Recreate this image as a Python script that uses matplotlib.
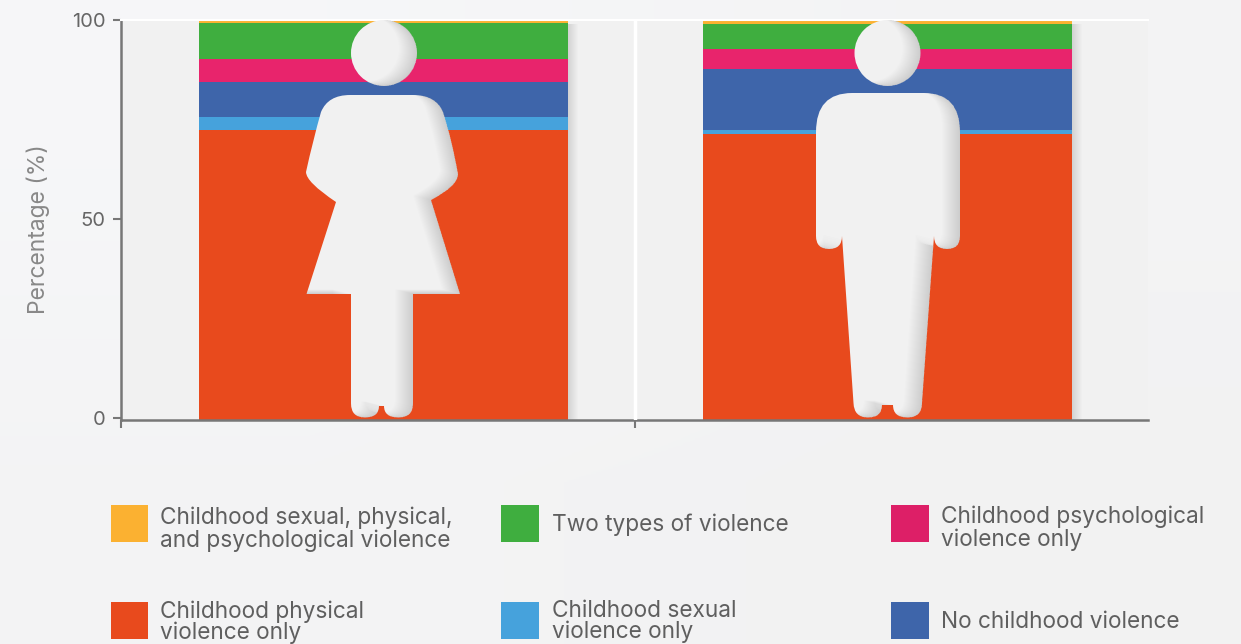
import numpy as np
import matplotlib.pyplot as plt
from matplotlib.path import Path
from matplotlib.patches import PathPatch, Rectangle

plt.rcParams['font.family'] = ['Inter', 'DejaVu Sans']

W, H = 1241, 644

categories = ['Women', 'Men']
labels = ['Childhood physical\nviolence only', 'Childhood sexual\nviolence only',
          'No childhood violence', 'Childhood psychological\nviolence only',
          'Two types of violence', 'Childhood sexual, physical,\nand psychological violence']
colors = ['#e84a1d', '#46a2dc', '#3e65aa', '#e8246c', '#3fae3f', '#fbb131']
swatch_colors = ['#e84a1d', '#46a2dc', '#3e65aa', '#dd1f67', '#3fae3f', '#fbb131']

physical = [72.5, 71.5]
sexual = [3.25, 1.0]
no_violence = [8.75, 15.25]
psychological = [5.75, 5.0]
two_types = [9.0, 6.25]
all_three = [0.75, 1.0]
series = [physical, sexual, no_violence, psychological, two_types, all_three]

y_ticks = [0.5, 50.25, 100]
y_tick_labels = ['0', '50', '100']

fig = plt.figure(figsize=(W/100, H/100), dpi=100)

# background
bg = fig.add_axes([0, 0, 1, 1], zorder=0)
bg_img = np.array([[[0.965, 0.968, 0.975], [0.955, 0.955, 0.96]],
                   [[0.955, 0.955, 0.96], [0.95, 0.95, 0.95]]])
bg.imshow(bg_img, extent=[0, 1, 0, 1], aspect='auto', interpolation='bilinear')
bg.axis('off')

############################# Bars ###########################################

ax = fig.add_axes([120.5/W, 1-420/H, (1148-120.5)/W, 400/H], zorder=1)
ax.set_facecolor('#f1f1f1')
x = np.arange(len(categories))
ax.set_xlim(-0.5218, 1.5169)
ax.set_ylim(0, 100)

# soft shadow on the right of the bars
for i in range(1, 11):
    ax.bar(x + i*0.002, [99]*2, 0.732, color='k', alpha=0.012, zorder=1)

bottom = np.zeros(2)
for vals, c in zip(series, colors):
    ax.bar(x, vals, 0.732, bottom=bottom, color=c, zorder=2)
    bottom += np.array(vals)

ax.axvline(0.499, color='white', lw=2.5, zorder=3)
ax.spines['top'].set_color('white')
ax.spines['top'].set_linewidth(1.5)
ax.spines['right'].set_visible(False)
ax.spines['left'].set_color('#777777')
ax.spines['bottom'].set_color('#777777')
ax.spines['left'].set_linewidth(1.8)
ax.spines['bottom'].set_linewidth(1.8)
ax.set_xticks([-0.5218, 0.499])
ax.set_xticklabels([])
ax.set_yticks(y_ticks)
ax.set_yticklabels(y_tick_labels)
ax.tick_params(axis='x', length=6, width=1.5, color='#777777')
ax.tick_params(axis='y', length=6, width=1.5, color='#777777', pad=5,
               labelsize=14.5, labelcolor='#666666')

############################# Silhouettes ####################################

over = fig.add_axes([0, 0, 1, 1], zorder=2)
over.set_xlim(0, W)
over.set_ylim(H, 0)
over.axis('off')
over.patch.set_alpha(0)

over.text(38, 229.5, 'Percentage (%)', fontsize=16.5, color='#888888', rotation=90,
          ha='center', va='center')

M, L, C, Z = Path.MOVETO, Path.LINETO, Path.CURVE3, Path.CLOSEPOLY

woman = [
    (M, (350, 95)), (C, (328, 95)), (C, (321, 112)), (C, (313, 140)), (C, (306, 172)),
    (C, (306, 182)), (C, (336, 202)), (L, (306.5, 294)), (L, (351, 294)), (L, (351, 403.5)),
    (C, (351, 417.5)), (C, (365, 417.5)), (C, (379, 417.5)), (C, (379, 406)), (L, (384, 406)),
    (C, (384, 417.5)), (C, (398.5, 417.5)), (C, (413, 417.5)), (C, (413, 403.5)), (L, (413, 294)),
    (L, (460, 294)), (L, (431, 200)), (C, (458, 186)), (C, (458, 174)), (C, (452, 140)),
    (C, (443, 112)), (C, (436, 95)), (C, (413, 95)), (Z, (350, 95)),
]
man = [
    (M, (852, 93)), (C, (816, 93)), (C, (816, 132)), (L, (816, 236)), (C, (816, 249)),
    (C, (829, 249)), (C, (842, 249)), (C, (842, 236)), (L, (853.5, 403)), (C, (854, 417.5)),
    (C, (868, 417.5)), (C, (882, 417.5)), (C, (882, 405)), (L, (893, 405)), (C, (893, 417.5)),
    (C, (907.5, 417.5)), (C, (922, 417.5)), (C, (922, 403)), (L, (934, 236)), (C, (934, 249)),
    (C, (947, 249)), (C, (960, 249)), (C, (960, 236)), (L, (960, 132)), (C, (960, 93)),
    (C, (924, 93)), (Z, (852, 93)),
]


def make_path(points):
    codes = [p[0] for p in points]
    verts = [p[1] for p in points]
    return Path(verts, codes)


def draw_shape(path):
    patch = PathPatch(path, fc='#f1f1f1', ec='none', zorder=3)
    over.add_patch(patch)
    # inner shadow on the right/lower edge
    area = path.to_polygons(closed_only=True)[0]
    xs, ys = area[:, 0], area[:, 1]
    signed = np.sum(xs[:-1]*ys[1:] - xs[1:]*ys[:-1])
    rect = np.array([(0, 0), (W, 0), (W, H), (0, H), (0, 0)], dtype=float)
    if signed > 0:
        rect = rect[::-1]
    rect_codes = [M, L, L, L, Z]
    for d in range(1, 19):
        shifted = Path(path.vertices + np.array([-d, -d*0.25]), path.codes)
        ring = Path.make_compound_path(Path(rect, rect_codes), shifted)
        shade = PathPatch(ring, fc='k', ec='none', alpha=0.008, zorder=4)
        over.add_patch(shade)
        shade.set_clip_path(patch)


draw_shape(make_path(woman))
draw_shape(make_path(man))
draw_shape(Path.circle((384, 53), 33))
draw_shape(Path.circle((887.5, 53), 33))

############################# Legend #########################################

legend_order = [5, 4, 3, 0, 1, 2]
swatch_x = [110.5, 501, 891]
swatch_y = [505, 602]
text_x = [160, 551.5, 941]
text_y = [529, 525, 528, 622, 621.5, 622]
text_spacing = [1.03, 1.03, 1.03, 0.92, 0.96, 1.03]

for n, idx in enumerate(legend_order):
    col, row = n % 3, n // 3
    over.add_patch(Rectangle((swatch_x[col], swatch_y[row]), 37.5, 37,
                             fc=swatch_colors[idx], ec='none', zorder=3))
    over.text(text_x[col], text_y[n], labels[idx], fontsize=16.3, color='#5f5f5f',
              va='center', ha='left', linespacing=text_spacing[n])

fig.savefig('out.png', dpi=100)
plt.close()
